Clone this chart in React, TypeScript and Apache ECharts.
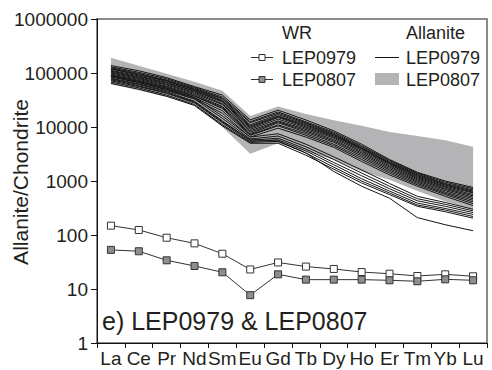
import React, { useEffect, useRef } from "react";
import * as echarts from "echarts";

const elements = ["La", "Ce", "Pr", "Nd", "Sm", "Eu", "Gd", "Tb", "Dy", "Ho", "Er", "Tm", "Yb", "Lu"];

const wrLEP0979 = [149, 124, 89, 70, 45, 23, 31, 26, 23.5, 20.6, 19.2, 17.4, 18.7, 17.2];
const wrLEP0807 = [53, 50, 34, 26.7, 20.4, 7.7, 18.7, 14.9, 14.9, 14.9, 14.5, 13.9, 15.1, 14.5];

const bandUpperLEP0807 = [192000, 136000, 97000, 69000, 47000, 16000, 24000, 17400, 13400, 10500, 8100, 6800, 5700, 4300];
const bandLowerLEP0807 = [62000, 48000, 36000, 26000, 10000, 3200, 5000, 3500, 2500, 1500, 1050, 650, 420, 290];

const allaniteLEP0979: number[][] = [
  [137000, 110000, 82000, 56000, 39000, 13500, 20500, 13500, 8500, 4800, 2500, 1450, 1000, 760],
  [130000, 103000, 78000, 54000, 36000, 12500, 19000, 12500, 8000, 4500, 2400, 1400, 950, 720],
  [125000, 98000, 74000, 52000, 34000, 12000, 18000, 12000, 7600, 4300, 2300, 1350, 900, 680],
  [120000, 95000, 72000, 50000, 33000, 11000, 17000, 11500, 7300, 4100, 2200, 1300, 870, 650],
  [118000, 92000, 70000, 49000, 31000, 10500, 16000, 11000, 7000, 4000, 2150, 1250, 840, 620],
  [112000, 88000, 67000, 47000, 30000, 10000, 15500, 10500, 6800, 3900, 2100, 1200, 800, 600],
  [108000, 85000, 65000, 46000, 29000, 9500, 15000, 10000, 6500, 3700, 2000, 1150, 770, 560],
  [104000, 82000, 62000, 44000, 27000, 9000, 14000, 9500, 6200, 3500, 1900, 1100, 730, 530],
  [100000, 79000, 60000, 42000, 26000, 8500, 13000, 9000, 5800, 3300, 1800, 1050, 700, 500],
  [96000, 76000, 57000, 40000, 24000, 8000, 12500, 8500, 5500, 3100, 1700, 1000, 660, 470],
  [92000, 73000, 55000, 38000, 23000, 7500, 12000, 8000, 5200, 2900, 1600, 950, 620, 440],
  [88000, 70000, 53000, 37000, 22000, 7200, 11000, 7500, 4800, 2700, 1500, 900, 590, 410],
  [85000, 67000, 50000, 35000, 20000, 7000, 10500, 7000, 4500, 2500, 1400, 850, 560, 380],
  [80000, 63000, 47000, 33000, 18000, 6500, 9500, 6500, 4200, 2300, 1300, 800, 520, 350],
  [90000, 70000, 52000, 35000, 16000, 6500, 7500, 4800, 2800, 1600, 900, 520, 400, 300],
  [85000, 66000, 49000, 33000, 14500, 6000, 6800, 4300, 2500, 1400, 800, 470, 370, 280],
  [78000, 61000, 45000, 30000, 13000, 5700, 6200, 3900, 2200, 1250, 720, 430, 340, 260],
  [72000, 56000, 42000, 28000, 12000, 5400, 5800, 3600, 2000, 1100, 650, 390, 310, 240],
  [68000, 53000, 39000, 26000, 11000, 5200, 5400, 3300, 1800, 1000, 600, 360, 290, 220],
  [64000, 50000, 37000, 25000, 10500, 5000, 5000, 3000, 1650, 920, 560, 340, 270, 205],
  [75000, 58000, 43000, 29000, 12500, 5800, 5500, 3300, 1500, 800, 480, 210, 155, 120],
];

const yTicks = [1, 10, 100, 1000, 10000, 100000, 1000000];

const FONT = "'Liberation Sans', Arial, Helvetica, sans-serif";
const TXT = "#231f20";

export default function App() {
  const ref = useRef<HTMLDivElement>(null);

  useEffect(() => {
    document.body.style.margin = "0";
    if (!ref.current) return;
    const chart = echarts.init(ref.current, null, { renderer: "svg" });

    const series: any[] = [];
    series.push({
      type: "custom",
      name: "Allanite LEP0807",
      silent: true,
      z: 1,
      data: [[0, bandUpperLEP0807[0]]],
      encode: { x: 0, y: 1 },
      renderItem: (_params: any, api: any) => {
        const pts: number[][] = [];
        for (let i = 0; i < elements.length; i++) pts.push(api.coord([i, bandUpperLEP0807[i]]));
        for (let i = elements.length - 1; i >= 0; i--) pts.push(api.coord([i, bandLowerLEP0807[i]]));
        return { type: "polygon", shape: { points: pts }, style: { fill: "#b4b4b6", stroke: "none" } };
      },
    });
    allaniteLEP0979.forEach((arr, idx) => {
      series.push({
        type: "line",
        name: "Allanite LEP0979 " + idx,
        data: arr,
        symbol: "none",
        silent: true,
        z: 2,
        lineStyle: { color: "#141414", width: 1 },
      });
    });
    series.push({
      type: "line",
      name: "WR LEP0979",
      data: wrLEP0979,
      symbol: "rect",
      symbolSize: 7,
      z: 3,
      lineStyle: { color: "#333", width: 1 },
      itemStyle: { color: "#ffffff", borderColor: "#333", borderWidth: 1 },
    });
    series.push({
      type: "line",
      name: "WR LEP0807",
      data: wrLEP0807,
      symbol: "rect",
      symbolSize: 7,
      z: 3,
      lineStyle: { color: "#333", width: 1 },
      itemStyle: { color: "#8e8e8e", borderColor: "#333", borderWidth: 1 },
    });

    const legendText = (text: string, x: number, y: number) => ({
      type: "text",
      x,
      y,
      style: { text, fill: TXT, font: `18px ${FONT}`, textVerticalAlign: "middle", textAlign: "left" },
    });
    const graphic: any[] = [
      legendText("WR", 282, 33),
      legendText("Allanite", 406, 33),
      legendText("LEP0979", 282, 58),
      legendText("LEP0807", 282, 80),
      legendText("LEP0979", 406, 58),
      legendText("LEP0807", 406, 80),
      { type: "line", shape: { x1: 251, y1: 57.5, x2: 273, y2: 57.5 }, style: { stroke: "#333", lineWidth: 1 } },
      { type: "rect", shape: { x: 259, y: 54.5, width: 6, height: 6 }, style: { fill: "#fff", stroke: "#333", lineWidth: 1 } },
      { type: "line", shape: { x1: 251, y1: 79.5, x2: 273, y2: 79.5 }, style: { stroke: "#333", lineWidth: 1 } },
      { type: "rect", shape: { x: 259, y: 76.5, width: 6, height: 6 }, style: { fill: "#8e8e8e", stroke: "#333", lineWidth: 1 } },
      { type: "line", shape: { x1: 375, y1: 57.5, x2: 399, y2: 57.5 }, style: { stroke: "#141414", lineWidth: 1 } },
      { type: "rect", shape: { x: 375, y: 73, width: 24, height: 12 }, style: { fill: "#b4b4b6" } },
      {
        type: "text",
        x: 102,
        y: 321,
        style: { text: "e) LEP0979 & LEP0807", fill: TXT, font: `25px ${FONT}`, textVerticalAlign: "middle", textAlign: "left" },
      },
      {
        type: "text",
        x: 20,
        y: 182,
        rotation: Math.PI / 2,
        style: { text: "Allanite/Chondrite", fill: TXT, font: `21px ${FONT}`, textVerticalAlign: "middle", textAlign: "center" },
      },
    ];

    chart.setOption({
      animation: false,
      grid: {
        left: 97,
        right: 5,
        top: 19,
        bottom: 27,
        containLabel: false,
        outerBoundsMode: "none",
        show: true,
        borderColor: "#666",
        borderWidth: 1.5,
        backgroundColor: "transparent",
      },
      xAxis: {
        type: "category",
        data: elements,
        boundaryGap: true,
        axisLine: { lineStyle: { color: "#111", width: 1 } },
        axisTick: { show: true, alignWithLabel: false, length: 5, inside: false, lineStyle: { color: "#111" } },
        axisLabel: { interval: 0, color: TXT, fontSize: 19, fontFamily: FONT, margin: 6 },
        splitLine: { show: false },
      },
      yAxis: {
        type: "log",
        logBase: 10,
        min: yTicks[0],
        max: yTicks[yTicks.length - 1],
        axisLine: { show: true, lineStyle: { color: "#111", width: 1 } },
        axisTick: { show: true, length: 6, inside: false, lineStyle: { color: "#111" } },
        axisLabel: { color: TXT, fontSize: 19, fontFamily: FONT, margin: 9, formatter: (v: number) => String(Math.round(v)) },
        splitLine: { show: false },
        minorTick: { show: false },
      },
      series,
      graphic,
    });

    return () => chart.dispose();
  }, []);

  return <div ref={ref} style={{ width: 492, height: 370 }} />;
}
